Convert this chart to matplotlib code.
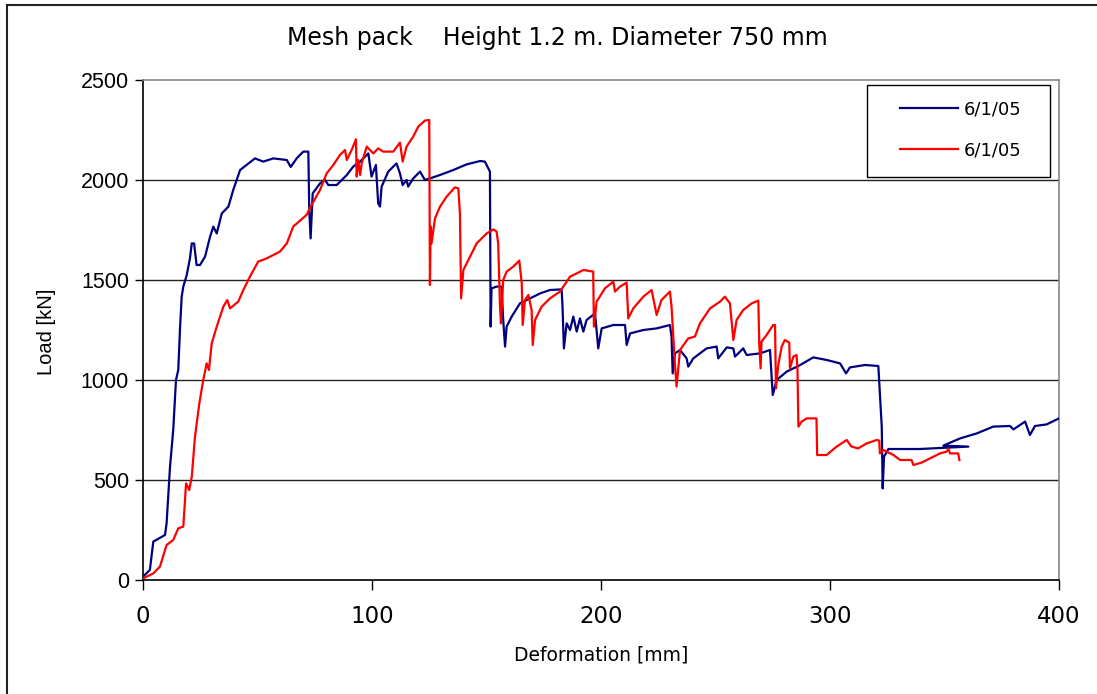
import matplotlib
matplotlib.use("Agg")
import matplotlib.pyplot as plt
from matplotlib.lines import Line2D
from matplotlib.patches import Rectangle

plt.rcParams['font.family'] = ['Liberation Sans', 'DejaVu Sans']

# first test (blue): deformation [mm], load [kN]
blue_x = [0, 3, 4.5, 9.6, 10.3, 11.8, 13.2, 14.4, 15.4, 16.2, 16.9, 17.6, 19.1, 20.5,
          21.3, 22.3, 23.4, 24.9, 27.1, 29.3, 30.7, 32.2, 34.4, 37.3, 39.4, 42.4,
          48.9, 52.5, 56.9, 62.8, 64.5, 67.1, 70, 72.2, 72.6, 73.2, 74.1, 77.3,
          79.5, 80.9, 84.6, 89, 91.8, 94.8, 98.4, 99.8, 101.7, 102.7, 103.5, 104.2,
          107.1, 110.7, 112.2, 113.4, 115.1, 115.8, 118, 121, 123.1, 125.3, 129.7,
          135.5, 141.3, 147.2, 149.3, 151.5, 151.8, 152.2, 154.4, 156.6, 157.3,
          158.1, 158.8, 161, 164.6, 169, 173.4, 177.7, 182.8, 183.2, 183.8, 185,
          186.5, 187.9, 189.4, 190.8, 192.3, 193.7, 197.4, 198.8, 200.3, 205.4,
          210.5, 211.2, 212.7, 218.5, 224.3, 230.1, 230.8, 231.3, 232.3, 234.5,
          237.4, 238.1, 240.3, 246.1, 250.5, 251.2, 254.9, 257.8, 258.5, 262.1,
          263.6, 269.4, 273.8, 275, 276.7, 281.1, 286.2, 292.7, 298.6, 304.4, 307,
          308.7, 315.3, 321.1, 322.6, 323, 323.6, 325.5, 339.3, 360.4, 349.5,
          356.8, 364.1, 371.3, 378.6, 380.1, 385.2, 387.3, 389.5, 394.6, 400]
blue_y = [17, 50, 192, 225, 283, 567, 750, 1000, 1050, 1267, 1417, 1467, 1525, 1608,
          1683, 1683, 1575, 1575, 1617, 1717, 1767, 1733, 1833, 1867, 1950, 2050,
          2108, 2092, 2108, 2100, 2065, 2108, 2142, 2142, 1850, 1708, 1933, 1983,
          2000, 1975, 1975, 2025, 2067, 2092, 2133, 2017, 2075, 1883, 1867, 1967,
          2042, 2083, 2033, 1975, 2000, 1967, 2008, 2042, 2000, 2008, 2025,
          2050, 2078, 2095, 2092, 2042, 1267, 1458, 1467, 1467, 1300,
          1167, 1267, 1317, 1383, 1408, 1433, 1450, 1453, 1367, 1158, 1283,
          1250, 1317, 1242, 1308, 1242, 1300, 1333, 1158, 1258, 1275,
          1275, 1175, 1233, 1250, 1258, 1275, 1217, 1033, 1133, 1150,
          1108, 1067, 1108, 1158, 1167, 1108, 1163, 1158, 1117, 1158,
          1125, 1133, 1150, 925, 1000, 1042, 1070, 1113, 1100, 1083, 1033,
          1063, 1075, 1070, 767, 458, 617, 655, 655, 667, 672,
          708, 733, 767, 770, 753, 792, 725, 770, 778, 808]

# second test (red)
red_x = [0, 4.5, 7.4, 10.3, 13.2, 15.4, 17.6, 18.8, 20.2, 21.3, 22.7, 24.6, 26.3,
         27.8, 28.8, 30, 32.2, 35.1, 36.8, 38, 41.6, 43.8, 46.7, 50.3, 54, 59.8,
         62.8, 65.6, 71.4, 73.6, 77.3, 80.2, 83.1, 86, 88.2, 89, 91.1, 93, 93.3,
         94, 94.8, 95.5, 97.7, 99.1, 100.6, 102.7, 104.9, 109.3, 112.2, 113.4,
         115.1, 118, 120.2, 123.1, 125, 125.3, 125.6, 126, 127.5, 129.7, 132.6,
         136.2, 137.7, 138.4, 138.9, 139.9, 142.8, 145.7, 150.1, 153, 154.4,
         155.1, 155.9, 156.3, 157.3, 158.8, 161.7, 164.3, 165.4, 165.8, 166.8,
         168.3, 169.7, 170.2, 171.2, 174.1, 177.7, 182.1, 186.5, 189.4, 192.3,
         196.6, 196.9, 198.1, 201.7, 205.4, 206.1, 208.3, 211.2, 211.9, 214.1,
         218.5, 222.1, 224.3, 226.4, 230.1, 230.8, 232.3, 233, 234.5, 238.1, 241,
         243.2, 247.6, 252, 254.1, 256.3, 257.8, 259.2, 262.1, 265.8, 268.7,
         269.1, 269.7, 270.1, 272.3, 275.2, 276, 276.4, 277.4, 278.9, 280.3,
         282.2, 282.5, 284, 285.4, 285.8, 286.2, 287.6, 289.8, 294.1, 294.4,
         298.5, 302.9, 307.3, 309.4, 312.3, 316, 320.4, 321.5, 321.8, 323.3,
         327.7, 330.6, 335.6, 336.4, 340, 343.7, 348, 351, 351.7, 352.4, 356,
         356.5]
red_y = [8, 33, 67, 175, 200, 258, 267, 483, 450, 517, 717, 883, 1000,
         1083, 1050, 1183, 1267, 1367, 1400, 1358, 1392, 1450, 1517, 1592, 1608, 1642,
         1683, 1767, 1825, 1875, 1950, 2033, 2075, 2125, 2150, 2100, 2150, 2203, 2017,
         2100, 2025, 2083, 2167, 2150, 2133, 2158, 2142, 2142, 2187, 2092,
         2167, 2217, 2267, 2297, 2300, 1475, 1767, 1683, 1808, 1867, 1917,
         1963, 1958, 1833, 1408, 1550, 1617, 1683, 1733, 1753, 1742,
         1683, 1367, 1283, 1500, 1542, 1567, 1597, 1483, 1275, 1400,
         1425, 1350, 1175, 1300, 1367, 1408, 1442, 1517, 1533, 1550,
         1542, 1267, 1392, 1458, 1492, 1442, 1467, 1487, 1308, 1358,
         1417, 1450, 1325, 1400, 1442, 1367, 1075, 967, 1150, 1208, 1217,
         1283, 1358, 1392, 1417, 1383, 1200, 1300, 1350, 1383, 1397,
         1183, 1058, 1192, 1225, 1275, 1275, 958, 1075, 1167, 1200,
         1187, 1058, 1117, 1125, 1050, 767, 792, 808, 808, 625,
         625, 667, 700, 667, 658, 683, 700, 697, 633, 650,
         625, 600, 600, 575, 587, 608, 633, 642, 658, 633, 633,
         600]

series_labels = ['6/1/05', '6/1/05']
x_ticks = [0, 100, 200, 300, 400]
y_ticks = [0, 500, 1000, 1500, 2000, 2500]

W, H = 1097, 694
fig = plt.figure(figsize=(W / 100, H / 100), dpi=100)
ax = fig.add_axes([143 / W, 1 - 580 / H, 916 / W, 500 / H])

for yv in y_ticks[1:-1]:
    ax.axhline(yv, color='#222222', lw=1.0, zorder=1)

ax.plot(blue_x, blue_y, color='#000080', lw=1.6, label=series_labels[0], zorder=3)
ax.plot(red_x, red_y, color='#ff0000', lw=1.6, label=series_labels[1], zorder=4)

ax.set_xlim(0, 400)
ax.set_ylim(0, 2500)
ax.set_xticks(x_ticks)
ax.set_yticks(y_ticks)
ax.tick_params(axis='y', direction='out', length=6, width=1, labelsize=15.5, pad=4)
ax.tick_params(axis='x', direction='out', length=7, width=1, labelsize=16.5, pad=11)
for lab in ax.get_xticklabels():
    lab.set_family('DejaVu Sans')

ax.spines['left'].set_color('black')
ax.spines['bottom'].set_color('black')
ax.spines['top'].set_color('#888888')
ax.spines['right'].set_color('#888888')
for s in ax.spines.values():
    s.set_linewidth(1.2)

fig.text(557 / W, 1 - 38 / H, 'Mesh pack    Height 1.2 m. Diameter 750 mm',
         ha='center', va='center', fontsize=17, family='DejaVu Sans')
fig.text(601 / W, 1 - 655 / H, 'Deformation [mm]', ha='center', va='center',
         fontsize=13.5, family='DejaVu Sans')
fig.text(47 / W, 1 - 332 / H, 'Load [kN]', ha='center', va='center',
         rotation=90, fontsize=14.5)

# legend box drawn separately so its padding can be set per side
fig.add_artist(Rectangle((867 / W, 1 - 177 / H), 183 / W, 92 / H,
                         transform=fig.transFigure, fill=False,
                         edgecolor='black', lw=1.0))
ax.legend(loc='center', bbox_to_anchor=(961 / W, 1 - 130 / H),
          bbox_transform=fig.transFigure, frameon=False,
          prop={'family': 'DejaVu Sans', 'size': 13},
          handlelength=3.2, handletextpad=0.35, labelspacing=1.25,
          borderpad=0, borderaxespad=0)

# outer chart frame (top and left edges)
fig.add_artist(Line2D([7 / W, 1.0], [1 - 5 / H, 1 - 5 / H],
                      transform=fig.transFigure, color='#222222', lw=1.5))
fig.add_artist(Line2D([7 / W, 7 / W], [0, 1 - 5 / H],
                      transform=fig.transFigure, color='#222222', lw=1.5))

fig.savefig('out.png', dpi=100)
